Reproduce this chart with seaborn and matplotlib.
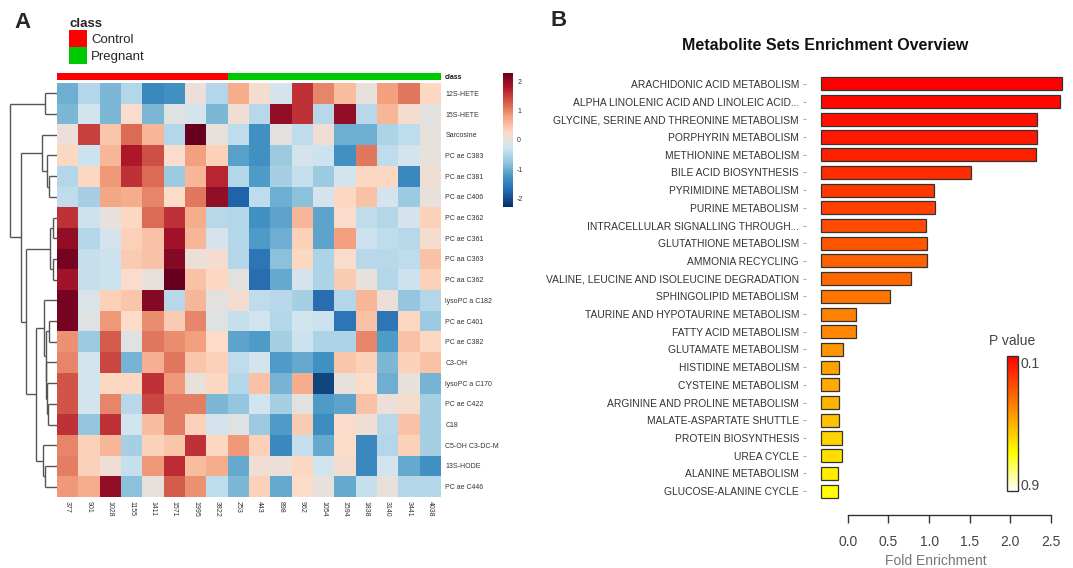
import numpy as np
import pandas as pd
import matplotlib
matplotlib.use("Agg")
import matplotlib.pyplot as plt
import matplotlib.cm as cm
import seaborn as sns
from matplotlib.colors import LinearSegmentedColormap, ListedColormap, Normalize
from matplotlib.patches import Patch

# ---------------- Panel A data ----------------
samples = ["377", "901", "1028", "1155", "1411", "1571", "1995", "3822",
           "253", "443", "898", "962", "1054", "1594", "1838", "3140", "3441", "4038"]
sample_class = ["Control", "Control", "Control", "Control", "Control", "Control", "Control", "Control",
                "Pregnant", "Pregnant", "Pregnant", "Pregnant", "Pregnant", "Pregnant", "Pregnant",
                "Pregnant", "Pregnant", "Pregnant"]
metabolites = ["12S-HETE", "15S-HETE", "Sarcosine", "PC ae C383", "PC ae C381", "PC ae C406",
               "PC ae C362", "PC ae C361", "PC aa C363", "PC aa C362", "lysoPC a C182",
               "PC ae C401", "PC ae C382", "C3-OH", "lysoPC a C170", "PC ae C422", "C18",
               "C5-OH C3-DC-M", "13S-HODE", "PC ae C446"]

z_12S_HETE = [-1.0, -0.5, -0.9, -0.5, -1.4, -1.3, 0.05, -0.5, 0.7, 0.15, -0.2, 1.6, 1.0, 0.55, 0.0, 0.8, 1.1, 0.3]
z_15S_HETE = [-0.9, -0.25, -0.9, 0.2, -0.9, -0.1, -0.2, -0.9, 0.1, -0.45, 2.0, 1.6, -0.45, 2.0, -0.45, 0.6, 0.15, -0.05]
z_Sarcosine = [0.05, 1.5, 0.45, 1.2, 0.6, -0.5, 2.3, 0.0, -0.4, -1.3, -0.05, -0.4, 0.1, -1.0, -1.0, -0.55, -0.4, 0.0]
z_PCaeC383 = [0.3, -0.3, 0.6, 1.8, 1.4, 0.2, 0.8, 0.35, -1.15, -1.3, -0.7, -0.2, -0.3, -1.3, 1.1, -0.4, -0.2, 0.0]
z_PCaeC381 = [-0.5, 0.3, 0.85, 1.6, 1.2, -0.7, 0.6, 1.7, -0.5, -1.2, -0.6, -0.35, -0.7, -0.25, 0.3, 0.3, -1.4, 0.1]
z_PCaeC406 = [-0.4, -0.6, 0.75, 0.7, 1.0, 0.25, 1.1, 2.0, -1.8, -0.4, -1.0, -0.8, -0.2, 0.3, 0.5, -0.2, -0.7, 0.0]
z_PCaeC362 = [1.6, -0.3, 0.0, 0.3, 1.2, 1.6, 0.7, -0.45, -0.5, -1.3, -1.1, 0.6, -1.1, 0.2, -0.4, -0.5, -0.2, 0.35]
z_PCaeC361 = [2.0, -0.5, -0.2, 0.35, 0.5, 1.9, 0.6, -0.2, -0.5, -1.2, -1.0, 0.35, -1.1, 0.8, -0.3, -0.4, -0.45, 0.15]
z_PCaaC363 = [2.2, -0.35, -0.3, 0.4, 0.5, 2.1, 0.05, 0.15, -0.5, -1.6, -0.8, 0.3, -0.55, 0.2, -0.45, -0.45, -0.4, 0.5]
z_PCaaC362 = [1.9, -0.35, -0.3, 0.2, 0.0, 2.3, 0.5, 0.3, -0.05, -1.7, -1.05, -0.2, -0.55, 0.4, 0.0, -0.5, -0.3, 0.35]
z_lysoPCaC182 = [2.2, -0.15, 0.35, 0.45, 2.1, -0.45, 0.6, -0.05, 0.15, -0.4, -0.45, -0.6, -1.7, -0.5, 0.6, 0.05, -0.75, -0.5]
z_PCaeC401 = [2.2, -0.1, 0.85, 0.25, 0.95, 0.4, 1.0, -0.1, -0.35, -0.25, -0.5, -0.25, -0.3, -1.6, 0.5, -1.6, 0.3, -0.7]
z_PCaeC382 = [0.9, -0.7, 1.3, -0.1, 1.1, 0.95, 0.8, 0.25, -1.1, -1.2, -0.6, -0.3, -0.55, -0.55, 1.0, -1.2, 0.5, 0.3]
z_C3OH = [1.0, -0.25, 1.45, -0.95, 0.65, 1.1, 0.45, 0.35, -0.4, -0.2, -1.2, -1.05, -1.3, 0.45, 0.35, -0.9, 0.35, 0.5]
z_lysoPCaC170 = [1.35, -0.25, 0.3, 0.3, 1.6, 0.85, 0.0, 0.3, -0.5, 0.5, -0.95, 0.7, -2.1, 0.0, 0.25, -1.0, 0.0, -0.95]
z_PCaeC422 = [1.35, -0.2, 1.0, -0.45, 1.45, 1.05, 1.05, -0.9, -0.75, -0.25, -0.6, -0.05, -1.2, -1.1, 0.5, 0.05, 0.15, -0.6]
z_C18 = [1.6, -0.75, 1.6, -0.25, 0.55, 1.05, 0.35, -0.2, -0.1, -0.7, -1.2, 0.4, -1.35, 0.2, 0.1, -0.45, 0.5, -0.6]
z_C5OH = [1.0, 0.35, 0.6, -0.6, 0.35, 0.45, 1.6, 0.3, 0.85, 0.35, -1.4, -0.35, -1.05, 0.25, -1.4, -0.5, 0.35, -0.6]
z_13S_HODE = [1.05, 0.35, 0.1, -0.35, 0.85, 1.65, 0.55, 0.7, -1.05, 0.1, 0.05, 0.3, -0.25, 0.15, -1.4, -0.25, -1.05, -1.3]
z_PCaeC446 = [0.85, 0.7, 2.0, -0.8, 0.0, 1.3, 0.9, -0.4, -0.9, 0.35, -1.05, 0.25, 0.0, -1.05, -0.35, 0.0, -0.5, -0.5]

# row dendrogram (leaves = metabolite rows in display order): (child a, child b, height)
row_merges = [
    (0, 1, 12.4), (4, 5, 8.4), (3, 21, 10.0), (2, 22, 15.0),
    (6, 7, 4.0), (8, 9, 4.4), (24, 25, 6.7),
    (11, 12, 8.4), (15, 16, 9.0), (14, 28, 10.0), (13, 29, 10.7), (27, 30, 11.4), (10, 31, 12.7),
    (18, 19, 11.7), (17, 33, 14.0), (32, 34, 21.0),
    (26, 35, 31.2), (23, 36, 36.0), (20, 37, 46.7),
]

# ---------------- Panel B data ----------------
pathways = ["ARACHIDONIC ACID METABOLISM", "ALPHA LINOLENIC ACID AND LINOLEIC ACID...",
            "GLYCINE, SERINE AND THREONINE METABOLISM", "PORPHYRIN METABOLISM",
            "METHIONINE METABOLISM", "BILE ACID BIOSYNTHESIS", "PYRIMIDINE METABOLISM",
            "PURINE METABOLISM", "INTRACELLULAR SIGNALLING THROUGH...", "GLUTATHIONE METABOLISM",
            "AMMONIA RECYCLING", "VALINE, LEUCINE AND ISOLEUCINE DEGRADATION",
            "SPHINGOLIPID METABOLISM", "TAURINE AND HYPOTAURINE METABOLISM",
            "FATTY ACID METABOLISM", "GLUTAMATE METABOLISM", "HISTIDINE METABOLISM",
            "CYSTEINE METABOLISM", "ARGININE AND PROLINE METABOLISM", "MALATE-ASPARTATE SHUTTLE",
            "PROTEIN BIOSYNTHESIS", "UREA CYCLE", "ALANINE METABOLISM", "GLUCOSE-ALANINE CYCLE"]
fold_enrichment = [2.64, 2.61, 2.33, 2.33, 2.31, 1.51, 1.06, 1.07, 0.96, 0.98, 0.97, 0.78,
                   0.52, 0.105, 0.10, -0.06, -0.11, -0.11, -0.11, -0.11, -0.07, -0.07, -0.12, -0.12]
p_values = [0.06, 0.08, 0.10, 0.12, 0.14, 0.17, 0.20, 0.22, 0.25, 0.27, 0.30, 0.32,
            0.35, 0.38, 0.40, 0.43, 0.46, 0.48, 0.51, 0.54, 0.58, 0.61, 0.65, 0.69]
bar_base = -0.33
fold_ticks = [0.0, 0.5, 1.0, 1.5, 2.0, 2.5]

# ---------------- styling ----------------
sns.set_style("white")
plt.rcParams["font.family"] = ["Liberation Sans", "DejaVu Sans"]
plt.rcParams["axes.unicode_minus"] = False

W, H = 1073, 568
fig = plt.figure(figsize=(W / 100, H / 100), dpi=100)


def add_ax(l, t, r, b):
    return fig.add_axes([l / W, 1 - b / H, (r - l) / W, (b - t) / H])


ctrl_col, preg_col = "#FF0000", "#00C800"
rdbu10 = ["#053061", "#2166AC", "#4393C3", "#92C5DE", "#D1E5F0",
          "#FDDBC7", "#F4A582", "#D6604D", "#B2182B", "#67001F"]
heat_cmap = LinearSegmentedColormap.from_list("rdbu10", rdbu10, N=256)

# ---------------- Panel A ----------------
ax_hm = add_ax(57, 83, 441, 497)
ax_cls = add_ax(57, 73, 441, 80)
ax_den = add_ax(8, 83, 57, 497)
ax_cb = add_ax(503, 73, 513, 207)

heat_rows = [z_12S_HETE, z_15S_HETE, z_Sarcosine, z_PCaeC383, z_PCaeC381, z_PCaeC406,
             z_PCaeC362, z_PCaeC361, z_PCaaC363, z_PCaaC362, z_lysoPCaC182, z_PCaeC401,
             z_PCaeC382, z_C3OH, z_lysoPCaC170, z_PCaeC422, z_C18, z_C5OH, z_13S_HODE, z_PCaeC446]
heat_df = pd.DataFrame(np.array(heat_rows), index=metabolites, columns=samples)

sns.heatmap(heat_df, ax=ax_hm, cmap=heat_cmap, vmin=-2.3, vmax=2.3, cbar_ax=ax_cb,
            xticklabels=True, yticklabels=True)
ax_hm.yaxis.tick_right()
ax_hm.set_yticklabels(metabolites, rotation=0, fontsize=5, color="#333333")
ax_hm.set_xticklabels(samples, rotation=270, fontsize=5, color="#333333")
ax_hm.tick_params(length=0, pad=3)
ax_hm.set_xlabel("")
ax_hm.set_ylabel("")

cb = ax_hm.collections[0].colorbar
cb.set_ticks([-2, -1, 0, 1, 2])
cb.set_ticklabels(["-2", "-1", "0", "1", "2"])
cb.ax.tick_params(labelsize=5, length=0, pad=3, colors="#333333")
cb.outline.set_visible(False)

cls_df = pd.DataFrame([[0 if c == "Control" else 1 for c in sample_class]],
                      columns=samples, index=["class"])
sns.heatmap(cls_df, ax=ax_cls, cmap=ListedColormap([ctrl_col, preg_col]), vmin=0, vmax=1,
            cbar=False, xticklabels=False, yticklabels=True)
ax_cls.yaxis.tick_right()
ax_cls.set_yticklabels(["class"], rotation=0, fontsize=5, fontweight="bold", color="#111111")
ax_cls.tick_params(length=0, pad=3)
ax_cls.set_xlabel("")
ax_cls.set_ylabel("")


def draw_dendrogram(ax, merges, n):
    ypos = {i: i + 0.5 for i in range(n)}
    hpos = {i: 0.0 for i in range(n)}
    for k, (a, b, h) in enumerate(merges):
        node = n + k
        for c in (a, b):
            ax.plot([hpos[c], h], [ypos[c], ypos[c]], color="#555555", lw=1.0,
                    solid_capstyle="butt")
        ax.plot([h, h], [ypos[a], ypos[b]], color="#555555", lw=1.0, solid_capstyle="butt")
        ypos[node] = (ypos[a] + ypos[b]) / 2
        hpos[node] = h


draw_dendrogram(ax_den, row_merges, len(metabolites))
ax_den.set_xlim(49, 0)
ax_den.set_ylim(len(metabolites), 0)
ax_den.axis("off")

fig.legend(handles=[Patch(facecolor=ctrl_col, edgecolor="none", label="Control"),
                    Patch(facecolor=preg_col, edgecolor="none", label="Pregnant")],
           title="class", loc="upper left", bbox_to_anchor=(69 / W, 1 - 18 / H),
           frameon=False, fontsize=9.5, title_fontproperties={"weight": "bold", "size": 9.5},
           alignment="left", handlelength=1.36, handleheight=1.6, handletextpad=0.3,
           labelspacing=0.0, borderaxespad=0, borderpad=0)

fig.text(14 / W, 1 - 22 / H, "A", fontsize=16, fontweight="bold", va="center", ha="left")
fig.text(551 / W, 1 - 21 / H, "B", fontsize=16, fontweight="bold", va="center", ha="left")

# ---------------- Panel B ----------------
p_norm = Normalize(0.06, 0.94)
p_cmap = LinearSegmentedColormap.from_list(
    "pval", [(0.0, "#FF0000"), (0.72, "#FFFF00"), (1.0, "#FFFFFF")], N=256)
bar_colors = [p_cmap(p_norm(p)) for p in p_values]

bar_df = pd.DataFrame({"pathway": pathways, "fold": fold_enrichment})
bar_df["length"] = bar_df["fold"] - bar_base

ax_bar = add_ax(806, 75, 1065, 500)
sns.barplot(data=bar_df, x="length", y="pathway", hue="pathway", palette=bar_colors,
            legend=False, orient="h", width=0.74, saturation=1, errorbar=None,
            edgecolor="#333333", linewidth=0.9, left=bar_base, ax=ax_bar)
ax_bar.set_xlim(-0.515, 2.672)
ax_bar.set_ylim(len(pathways) - 0.5, -0.5)
for s in ("top", "right", "left"):
    ax_bar.spines[s].set_visible(False)
ax_bar.spines["bottom"].set_bounds(fold_ticks[0], fold_ticks[-1])
ax_bar.spines["bottom"].set_position(("outward", 10.8))
ax_bar.spines["bottom"].set_color("#333333")
ax_bar.spines["bottom"].set_linewidth(1.0)
ax_bar.set_xticks(fold_ticks)
ax_bar.set_xticklabels([f"{t:.1f}" for t in fold_ticks])
ax_bar.tick_params(axis="x", bottom=True, length=5.8, width=1.0, color="#333333",
                   labelsize=10, labelcolor="#444444", pad=8.5)
ax_bar.tick_params(axis="y", left=True, length=2.5, width=0.6, color="#999999",
                   labelsize=7.4, labelcolor="#333333", pad=2.5)
ax_bar.set_xlabel("Fold Enrichment", fontsize=10, color="#777777", labelpad=3.5)
ax_bar.set_ylabel("")

fig.text(825 / W, 1 - 45 / H, "Metabolite Sets Enrichment Overview", ha="center",
         va="center", fontsize=11.5, fontweight="bold", color="#111111")

ax_pcb = add_ax(1007, 356, 1018, 491)
sm = cm.ScalarMappable(norm=p_norm, cmap=p_cmap)
cb2 = fig.colorbar(sm, cax=ax_pcb)
ax_pcb.invert_yaxis()
cb2.set_ticks([0.1, 0.9])
cb2.set_ticklabels(["0.1", "0.9"])
cb2.ax.tick_params(labelsize=10, length=0, pad=2, colors="#444444")
cb2.outline.set_edgecolor("#333333")
cb2.outline.set_linewidth(1.0)
cb2.ax.set_title("P value", fontsize=10, color="#444444", pad=8)

fig.savefig("out.png", dpi=100)
